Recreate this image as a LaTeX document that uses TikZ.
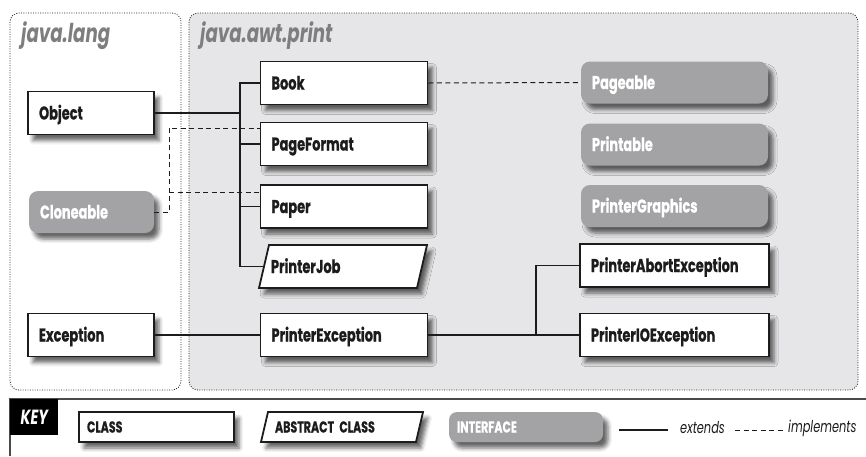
\documentclass[tikz,border=0pt]{standalone}
\usepackage{fontspec}
\setmainfont{Liberation Sans}
\newfontfamily\lblfont[FakeStretch=0.7, BoldFeatures={FakeBold=0.6}]{Poppins}
\usetikzlibrary{calc,shadows.blur}

\definecolor{ink}{HTML}{1C1C1C}
\definecolor{pkgfill}{HTML}{E6E6E8}
\definecolor{ifill}{HTML}{A3A3A6}
\definecolor{ttl}{HTML}{7E7E80}
\definecolor{rule}{HTML}{4A4A4A}

\tikzset{
  softshadow/.style={blur shadow={shadow xshift=5pt, shadow yshift=-6pt,
      shadow blur radius=4pt, shadow opacity=60}},
  lbl/.style={font=\lblfont\bfseries\fontsize{18.5}{18.5}\selectfont, text=ink,
      text height=13pt, text depth=0pt},
  klbl/.style={font=\lblfont\bfseries\fontsize{15.8}{15.8}\selectfont, text=ink,
      text height=11pt, text depth=0pt},
  cls/.style={lbl, draw=ink, line width=1.8pt, fill=white, inner xsep=11pt,
      inner ysep=0pt, minimum height=43pt, align=left, text width=#1, softshadow},
  ifc/.style={lbl, text=white, fill=ifill, rounded corners=9pt, inner xsep=11pt,
      inner ysep=0pt, minimum height=42pt, align=left, text width=#1, softshadow},
  absbody/.style={draw=ink, line width=1.8pt, fill=white, softshadow},
  plain/.style={inner xsep=12pt, inner ysep=0pt, align=left, text width=#1},
  pkg/.style={draw=ink, line width=0.8pt, dash pattern=on 0.9pt off 1.5pt,
      rounded corners=9pt},
  pkgtitle/.style={font=\lblfont\bfseries\itshape\fontsize{26}{26}\selectfont,
      text=ttl, inner sep=0pt, anchor=base west},
  keytext/.style={font=\lblfont\itshape\fontsize{16.3}{16.3}\selectfont, text=ink,
      anchor=west, inner sep=0pt},
  ext/.style={draw=ink, line width=1.8pt},
  impl/.style={draw=ink, line width=1pt, dash pattern=on 5pt off 3.5pt},
}

\begin{document}
\begin{tikzpicture}[x=1pt, y=-1pt]
\useasboundingbox (0,0) rectangle (866,456);

% package frames
\path[pkg] (10,13) rectangle (181,390);
\path[pkg, fill=pkgfill] (189,13) rectangle (858,390);
\node[pkgtitle] (tlang) at (21,42) {java.lang};
\node[pkgtitle] (tawt) at (200,42) {java.awt.print};

% java.lang
\node[cls=104pt] (obj) at (91,113) {Object};
\node[ifc=103pt] (clone) at (91.5,212) {Cloneable};
\node[cls=104pt] (exc) at (91,335) {Exception};

% java.awt.print classes
\node[cls=145pt] (book) at (344,83) {Book};
\node[cls=145pt] (pf) at (344,144) {PageFormat};
\node[cls=145pt] (paper) at (344,206.5) {Paper};
\path[absbody] (259,288) -- (269,245) -- (427,245) -- (417,288) -- cycle;
\node[plain=144pt, lbl] (job) at (343,266.5) {PrinterJob};
\node[cls=145pt] (pex) at (344,335) {PrinterException};

% java.awt.print interfaces
\node[ifc=165pt] (pageable) at (674.5,82.5) {Pageable};
\node[ifc=165pt] (printable) at (674.5,144.5) {Printable};
\node[ifc=165pt] (pgraph) at (674.5,206) {PrinterGraphics};

% exceptions
\node[cls=167pt] (pabort) at (674.5,265.5) {PrinterAbortException};
\node[cls=167pt] (pio) at (674.5,335) {PrinterIOException};

% extends connectors
\coordinate (tk) at (240,0);
\draw[ext] (obj.east) -- (obj.east -| tk);
\draw[ext] (book.west) -| (tk |- job.west) -- ($(job.west)+(5,0)$);
\draw[ext] (pf.west) -- (pf.west -| tk);
\draw[ext] (paper.west) -- (paper.west -| tk);
\draw[ext] (exc.east) -- (pex.west);
\coordinate (ek) at (536,0);
\draw[ext] (pex.east) -- (pex.east -| ek);
\draw[ext] (pabort.west) -| (ek |- pio.west) -- (pio.west);

% implements connectors
\coordinate (dk) at (169,0);
\coordinate (pfin) at ($(pf.west)+(0,-16)$);
\coordinate (paperin) at ($(paper.west)+(0,-14.5)$);
\draw[impl] (clone.east) -| (dk |- pfin) -- (pfin);
\draw[impl] (dk |- paperin) -- (paperin);
\draw[impl] (book.east) -- (pageable.west);

% key
\draw[rule, line width=1.3pt] (866,399) -- (10,399) -- (10,456);
\node[fill=black, minimum width=48pt, minimum height=36pt, inner sep=0pt,
      anchor=north west, text=white,
      font=\lblfont\bfseries\itshape\fontsize{20.5}{20.5}\selectfont] (keyhd) at (10,399) {KEY};
\node[cls=139pt, klbl, inner xsep=8pt, minimum height=30pt] (kclass) at (156.5,427) {CLASS};
\path[absbody] (261,442) -- (268,412) -- (423,412) -- (416,442) -- cycle;
\node[plain=134pt, klbl, inner xsep=14pt] (kabs) at (342,427) {ABSTRACT CLASS};
\node[ifc=138pt, klbl, text=white, inner xsep=8pt, minimum height=30pt, rounded corners=8pt] (kifc) at (526,427) {INTERFACE};
\coordinate (ka) at (619,430);
\coordinate (kb) at (668,430);
\draw[ext] (ka) -- (kb);
\node[keytext] (kext) at (680,428) {extends};
\coordinate (kc) at (735,430);
\coordinate (kd) at (783,430);
\draw[impl] (kc) -- (kd);
\node[keytext] (kimpl) at (788,428) {implements};
\end{tikzpicture}
\end{document}
